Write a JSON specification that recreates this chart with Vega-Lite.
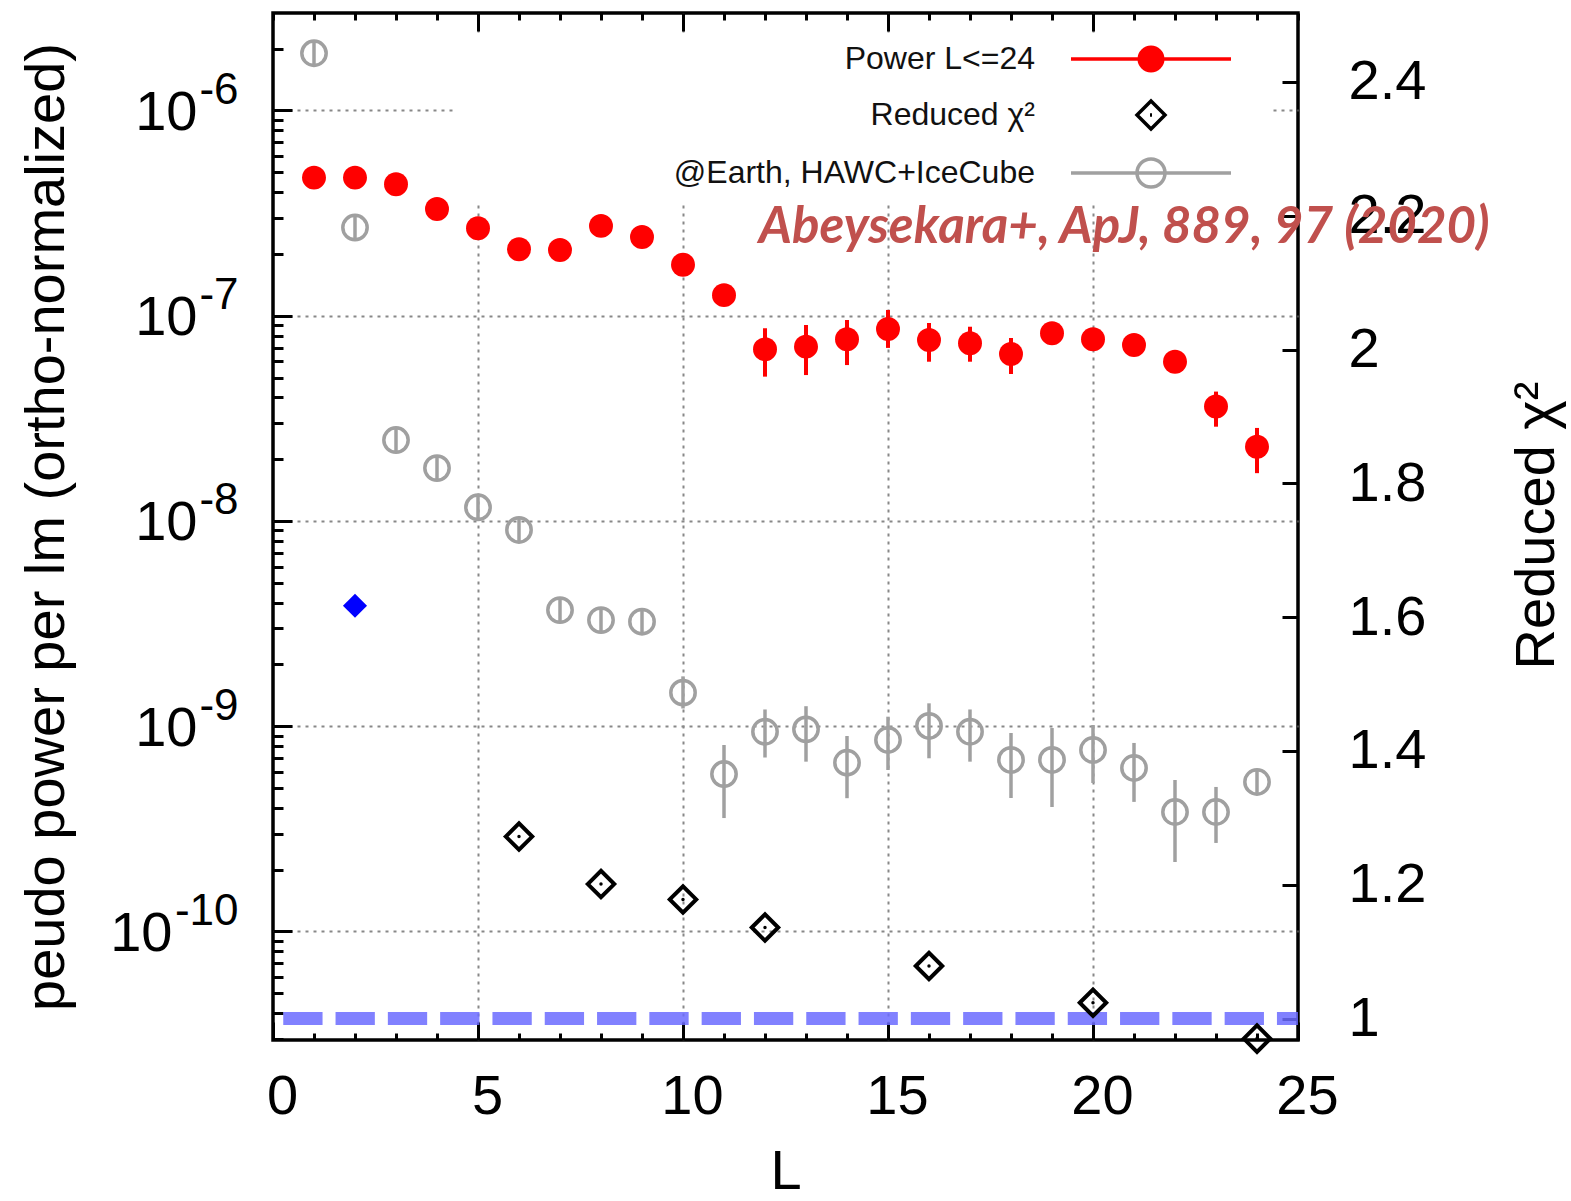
{
  "$schema": "https://vega.github.io/schema/vega-lite/v6.json",
  "width": 1025,
  "height": 1027,
  "autosize": "none",
  "padding": {"left": 273, "top": 13, "right": 273, "bottom": 161},
  "background": "white",
  "config": {
    "view": {"stroke": "#000000", "strokeWidth": 3.5},
    "axis": {
      "domain": false, "tickColor": "#000000", "tickWidth": 3,
      "labelFont": "Liberation Sans", "labelFontSize": 56, "labelColor": "#000000",
      "labelFlush": false, "labelOverlap": false,
      "titleFont": "Liberation Sans", "titleFontSize": 56, "titleFontWeight": "normal", "titleColor": "#000000",
      "gridColor": "#888888", "gridDash": [3, 5], "gridWidth": 2
    }
  },
  "datasets": {
    "power": [
      {"L": 1, "p": 4.71e-7, "lo": 4.39e-7, "hi": 5.05e-7, "s": "Power L<=24"},
      {"L": 2, "p": 4.71e-7, "lo": 4.39e-7, "hi": 5.05e-7, "s": "Power L<=24"},
      {"L": 3, "p": 4.37e-7, "lo": 4.08e-7, "hi": 4.68e-7, "s": "Power L<=24"},
      {"L": 4, "p": 3.31e-7, "lo": 3.09e-7, "hi": 3.55e-7, "s": "Power L<=24"},
      {"L": 5, "p": 2.67e-7, "lo": 2.49e-7, "hi": 2.86e-7, "s": "Power L<=24"},
      {"L": 6, "p": 2.11e-7, "lo": 1.97e-7, "hi": 2.26e-7, "s": "Power L<=24"},
      {"L": 7, "p": 2.09e-7, "lo": 1.95e-7, "hi": 2.24e-7, "s": "Power L<=24"},
      {"L": 8, "p": 2.74e-7, "lo": 2.56e-7, "hi": 2.94e-7, "s": "Power L<=24"},
      {"L": 9, "p": 2.42e-7, "lo": 2.26e-7, "hi": 2.59e-7, "s": "Power L<=24"},
      {"L": 10, "p": 1.77e-7, "lo": 1.65e-7, "hi": 1.90e-7, "s": "Power L<=24"},
      {"L": 11, "p": 1.26e-7, "lo": 1.17e-7, "hi": 1.35e-7, "s": "Power L<=24"},
      {"L": 12, "p": 6.86e-8, "lo": 5.05e-8, "hi": 8.69e-8, "s": "Power L<=24"},
      {"L": 13, "p": 7.07e-8, "lo": 5.14e-8, "hi": 9.01e-8, "s": "Power L<=24"},
      {"L": 14, "p": 7.68e-8, "lo": 5.75e-8, "hi": 9.53e-8, "s": "Power L<=24"},
      {"L": 15, "p": 8.62e-8, "lo": 6.97e-8, "hi": 1.067e-7, "s": "Power L<=24"},
      {"L": 16, "p": 7.62e-8, "lo": 5.97e-8, "hi": 9.22e-8, "s": "Power L<=24"},
      {"L": 17, "p": 7.34e-8, "lo": 5.97e-8, "hi": 8.84e-8, "s": "Power L<=24"},
      {"L": 18, "p": 6.51e-8, "lo": 5.2e-8, "hi": 7.79e-8, "s": "Power L<=24"},
      {"L": 19, "p": 8.21e-8, "lo": 7.36e-8, "hi": 9.3e-8, "s": "Power L<=24"},
      {"L": 20, "p": 7.68e-8, "lo": 6.9e-8, "hi": 8.6e-8, "s": "Power L<=24"},
      {"L": 21, "p": 7.20e-8, "lo": 6.44e-8, "hi": 8.07e-8, "s": "Power L<=24"},
      {"L": 22, "p": 5.97e-8, "lo": 5.32e-8, "hi": 6.81e-8, "s": "Power L<=24"},
      {"L": 23, "p": 3.61e-8, "lo": 2.88e-8, "hi": 4.27e-8, "s": "Power L<=24"},
      {"L": 24, "p": 2.30e-8, "lo": 1.71e-8, "hi": 2.84e-8, "s": "Power L<=24"}
    ],
    "earth": [
      {"L": 1, "e": 1.90e-6, "lo": 1.65e-6, "hi": 2.18e-6},
      {"L": 2, "e": 2.69e-7, "lo": 2.34e-7, "hi": 3.09e-7},
      {"L": 3, "e": 2.48e-8, "lo": 2.16e-8, "hi": 2.85e-8},
      {"L": 4, "e": 1.81e-8, "lo": 1.58e-8, "hi": 2.08e-8},
      {"L": 5, "e": 1.166e-8, "lo": 1.02e-8, "hi": 1.34e-8},
      {"L": 6, "e": 9.04e-9, "lo": 7.87e-9, "hi": 1.04e-8},
      {"L": 7, "e": 3.68e-9, "lo": 3.2e-9, "hi": 4.22e-9},
      {"L": 8, "e": 3.29e-9, "lo": 2.87e-9, "hi": 3.78e-9},
      {"L": 9, "e": 3.23e-9, "lo": 2.81e-9, "hi": 3.71e-9},
      {"L": 10, "e": 1.457e-9, "lo": 1.22e-9, "hi": 1.75e-9},
      {"L": 11, "e": 5.85e-10, "lo": 3.57e-10, "hi": 8.1e-10},
      {"L": 12, "e": 9.40e-10, "lo": 7.04e-10, "hi": 1.207e-9},
      {"L": 13, "e": 9.66e-10, "lo": 6.72e-10, "hi": 1.252e-9},
      {"L": 14, "e": 6.64e-10, "lo": 4.46e-10, "hi": 8.96e-10},
      {"L": 15, "e": 8.57e-10, "lo": 6.12e-10, "hi": 1.113e-9},
      {"L": 16, "e": 1.003e-9, "lo": 6.98e-10, "hi": 1.293e-9},
      {"L": 17, "e": 9.40e-10, "lo": 6.72e-10, "hi": 1.207e-9},
      {"L": 18, "e": 6.85e-10, "lo": 4.47e-10, "hi": 9.27e-10},
      {"L": 19, "e": 6.85e-10, "lo": 4.04e-10, "hi": 9.8e-10},
      {"L": 20, "e": 7.66e-10, "lo": 5.29e-10, "hi": 1.014e-9},
      {"L": 21, "e": 6.26e-10, "lo": 4.28e-10, "hi": 8.29e-10},
      {"L": 22, "e": 3.82e-10, "lo": 2.18e-10, "hi": 5.47e-10},
      {"L": 23, "e": 3.82e-10, "lo": 2.70e-10, "hi": 5.06e-10},
      {"L": 24, "e": 5.35e-10, "lo": 4.73e-10, "hi": 6.12e-10}
    ],
    "chi": [
      {"L": 6, "chi": 1.272},
      {"L": 8, "chi": 1.201},
      {"L": 10, "chi": 1.178},
      {"L": 12, "chi": 1.136},
      {"L": 16, "chi": 1.0785},
      {"L": 20, "chi": 1.0236},
      {"L": 24, "chi": 0.970}
    ],
    "chiblue": [
      {"L": 2, "chi": 1.617}
    ]
  },
  "layer": [
    {
      "data": {"name": "power"},
      "mark": {"type": "rule", "color": "#ff0000", "strokeWidth": 4},
      "encoding": {
        "x": {
          "field": "L", "type": "quantitative",
          "scale": {"domain": [0, 25], "nice": false, "zero": false},
          "axis": {
            "orient": "bottom", "values": [0, 5, 10, 15, 20, 25], "format": "d",
            "tickSize": -18, "labelPadding": 47, "labelOffset": 9, "grid": false,
            "title": "L", "titleX": 512.5, "titleY": 148, "titleBaseline": "alphabetic", "titleAlign": "center"
          }
        },
        "y": {
          "field": "lo", "type": "quantitative",
          "scale": {"type": "log", "domain": [2.96e-11, 2.985e-6], "nice": false},
          "axis": {
            "orient": "left", "values": [1e-10, 1e-9, 1e-8, 1e-7, 1e-6],
            "labelExpr": "'10'",
            "tickSize": -19,
            "labelPadding": {"condition": {"test": "datum.value < 3e-10", "value": 120}, "value": 95},
            "labelOffset": 2,
            "grid": true,
            "title": "peudo power per lm (ortho-normalized)",
            "titleX": -210, "titleY": 513.5, "titleAngle": 270, "titleBaseline": "alphabetic", "titleAlign": "center"
          }
        },
        "y2": {"field": "hi"}
      }
    },
    {
      "data": {"name": "power"},
      "mark": {"type": "circle", "size": 573, "color": "#ff0000", "opacity": 1},
      "encoding": {
        "x": {"field": "L", "type": "quantitative", "axis": null},
        "y": {"field": "p", "type": "quantitative", "scale": {"type": "log", "domain": [2.96e-11, 2.985e-6], "nice": false}, "axis": null}
      }
    },
    {
      "data": {"name": "earth"},
      "mark": {"type": "rule", "color": "#a0a0a0", "strokeWidth": 3.5},
      "encoding": {
        "x": {"field": "L", "type": "quantitative", "axis": null},
        "y": {"field": "lo", "type": "quantitative", "scale": {"type": "log", "domain": [2.96e-11, 2.985e-6], "nice": false}, "axis": null},
        "y2": {"field": "hi"}
      }
    },
    {
      "data": {"name": "earth"},
      "mark": {"type": "point", "shape": "circle", "filled": false, "size": 594, "stroke": "#a0a0a0", "strokeWidth": 3.5, "opacity": 1},
      "encoding": {
        "x": {"field": "L", "type": "quantitative", "axis": null},
        "y": {"field": "e", "type": "quantitative", "scale": {"type": "log", "domain": [2.96e-11, 2.985e-6], "nice": false}, "axis": null}
      }
    },
    {
      "data": {"values": [{"note": "Abeysekara+, ApJ, 889, 97 (2020)"}]},
      "mark": {"type": "text", "font": "Lato", "fontSize": 51, "fontStyle": "italic", "fontWeight": "bold", "color": "#c0504d", "align": "left", "baseline": "middle"},
      "encoding": {
        "x": {"datum": 11.85, "type": "quantitative", "axis": null},
        "y": {"datum": 2.676e-7, "type": "quantitative", "scale": {"type": "log", "domain": [2.96e-11, 2.985e-6], "nice": false}, "axis": null},
        "text": {"field": "note"}
      }
    },
    {
      "data": {"values": [{}]},
      "mark": {"type": "rule", "color": "#6b6bff", "strokeWidth": 13, "strokeDash": [39.3, 13], "opacity": 0.85},
      "encoding": {
        "x": {"datum": 0.25, "type": "quantitative", "axis": null},
        "x2": {"datum": 25},
        "y": {
          "datum": 1, "type": "quantitative",
          "scale": {"domain": [0.9679, 2.503], "nice": false, "zero": false},
          "axis": {
            "orient": "right", "values": [1, 1.2, 1.4, 1.6, 1.8, 2, 2.2, 2.4], "format": "~g",
            "tickSize": -16, "labelPadding": 66, "grid": false,
            "title": "Reduced χ²", "titleX": 255, "titleY": 512, "titleAngle": 270, "titleBaseline": "alphabetic", "titleAlign": "center"
          }
        }
      }
    },
    {
      "data": {"name": "chi"},
      "mark": {"type": "point", "shape": "diamond", "filled": false, "size": 700, "stroke": "#000000", "strokeWidth": 4, "opacity": 1},
      "encoding": {
        "x": {
          "field": "L", "type": "quantitative",
          "axis": {"orient": "top", "values": [5, 10, 15, 20], "labels": false, "tickSize": -18, "grid": true, "title": null}
        },
        "y": {"field": "chi", "type": "quantitative", "scale": {"domain": [0.9679, 2.503], "nice": false, "zero": false}, "axis": null}
      }
    },
    {
      "data": {"name": "chi"},
      "mark": {"type": "point", "shape": "circle", "filled": true, "size": 12, "color": "#000000", "opacity": 1},
      "encoding": {
        "x": {"field": "L", "type": "quantitative", "axis": null},
        "y": {"field": "chi", "type": "quantitative", "scale": {"domain": [0.9679, 2.503], "nice": false, "zero": false}, "axis": null}
      }
    },
    {
      "data": {"name": "chiblue"},
      "mark": {"type": "point", "shape": "diamond", "filled": true, "size": 580, "color": "#0000ff", "opacity": 1},
      "encoding": {
        "x": {"field": "L", "type": "quantitative", "axis": null},
        "y": {"field": "chi", "type": "quantitative", "scale": {"domain": [0.9679, 2.503], "nice": false, "zero": false}, "axis": null}
      }
    },
    {
      "data": {"name": "power"},
      "mark": {"type": "point", "filled": false, "opacity": 0},
      "encoding": {
        "x": {"field": "L", "type": "quantitative", "axis": null},
        "color": {
          "field": "s", "type": "nominal",
          "scale": {"domain": ["Power L<=24", "Reduced χ²", "@Earth, HAWC+IceCube"], "range": ["#ff0000", "#000000", "#a0a0a0"]},
          "legend": {
            "orient": "none", "legendX": 182, "legendY": 22, "direction": "vertical", "columns": 1,
            "title": null, "padding": 8, "fillColor": "white", "rowPadding": 16,
            "symbolSize": 4, "symbolStrokeWidth": 3.5, "symbolOpacity": 1, "symbolOffset": 672,
            "labelAlign": "right", "labelOffset": -132,
            "labelFont": "Liberation Sans", "labelFontSize": 32, "labelColor": "#111111", "labelLimit": 0
          }
        },
        "shape": {
          "field": "s", "type": "nominal",
          "scale": {
            "domain": ["Power L<=24", "Reduced χ²", "@Earth, HAWC+IceCube"],
            "range": [
              "M-688,0 M105,0 M-80,0 H80 M1.75,0 A1.75,1.75 0 1,1 -1.75,0 A1.75,1.75 0 1,1 1.75,0 M5,0 A5,5 0 1,1 -5,0 A5,5 0 1,1 5,0 M8.25,0 A8.25,8.25 0 1,1 -8.25,0 A8.25,8.25 0 1,1 8.25,0 M11.75,0 A11.75,11.75 0 1,1 -11.75,0 A11.75,11.75 0 1,1 11.75,0",
              "M-688,0 M105,0 M0,-14 L14,0 L0,14 L-14,0 Z M-1,0 H1",
              "M-688,0 M105,0 M-80,0 H80 M14,0 A14,14 0 1,1 -14,0 A14,14 0 1,1 14,0"
            ]
          },
          "legend": {
            "orient": "none", "legendX": 182, "legendY": 22, "direction": "vertical", "columns": 1,
            "title": null, "padding": 8, "fillColor": "white", "rowPadding": 16,
            "symbolSize": 4, "symbolStrokeWidth": 3.5, "symbolOpacity": 1, "symbolOffset": 672,
            "labelAlign": "right", "labelOffset": -132,
            "labelFont": "Liberation Sans", "labelFontSize": 32, "labelColor": "#111111", "labelLimit": 0
          }
        }
      }
    },
    {
      "data": {"name": "power"},
      "mark": {"type": "point", "opacity": 0},
      "encoding": {
        "x": {
          "field": "L", "type": "quantitative",
          "axis": {"orient": "bottom", "values": [0, 1, 2, 3, 4, 5, 6, 7, 8, 9, 10, 11, 12, 13, 14, 15, 16, 17, 18, 19, 20, 21, 22, 23, 24, 25], "labels": false, "tickSize": -7, "grid": false, "title": null}
        },
        "y": {
          "field": "p", "type": "quantitative",
          "scale": {"type": "log", "domain": [2.96e-11, 2.985e-6], "nice": false},
          "axis": {
            "orient": "left",
            "values": [3e-11, 4e-11, 5e-11, 6e-11, 7e-11, 8e-11, 9e-11, 1e-10, 2e-10, 3e-10, 4e-10, 5e-10, 6e-10, 7e-10, 8e-10, 9e-10, 1e-9, 2e-9, 3e-9, 4e-9, 5e-9, 6e-9, 7e-9, 8e-9, 9e-9, 1e-8, 2e-8, 3e-8, 4e-8, 5e-8, 6e-8, 7e-8, 8e-8, 9e-8, 1e-7, 2e-7, 3e-7, 4e-7, 5e-7, 6e-7, 7e-7, 8e-7, 9e-7, 1e-6, 2e-6],
            "labelExpr": "datum.value == 1e-6 ? '-6' : datum.value == 1e-7 ? '-7' : datum.value == 1e-8 ? '-8' : datum.value == 1e-9 ? '-9' : datum.value == 1e-10 ? '-10' : ''",
            "labelFontSize": 44, "labelAlign": "right", "labelBaseline": "middle", "labelPadding": 45, "labelOffset": -20,
            "tickSize": -10, "grid": false, "title": null
          }
        }
      }
    },
    {
      "data": {"name": "power"},
      "mark": {"type": "point", "opacity": 0},
      "encoding": {
        "x": {
          "field": "L", "type": "quantitative",
          "axis": {"orient": "top", "values": [0, 1, 2, 3, 4, 5, 6, 7, 8, 9, 10, 11, 12, 13, 14, 15, 16, 17, 18, 19, 20, 21, 22, 23, 24, 25], "labels": false, "tickSize": -7, "grid": false, "title": null}
        }
      }
    }
  ],
  "resolve": {"scale": {"y": "independent"}, "axis": {"x": "independent", "y": "independent"}}
}
